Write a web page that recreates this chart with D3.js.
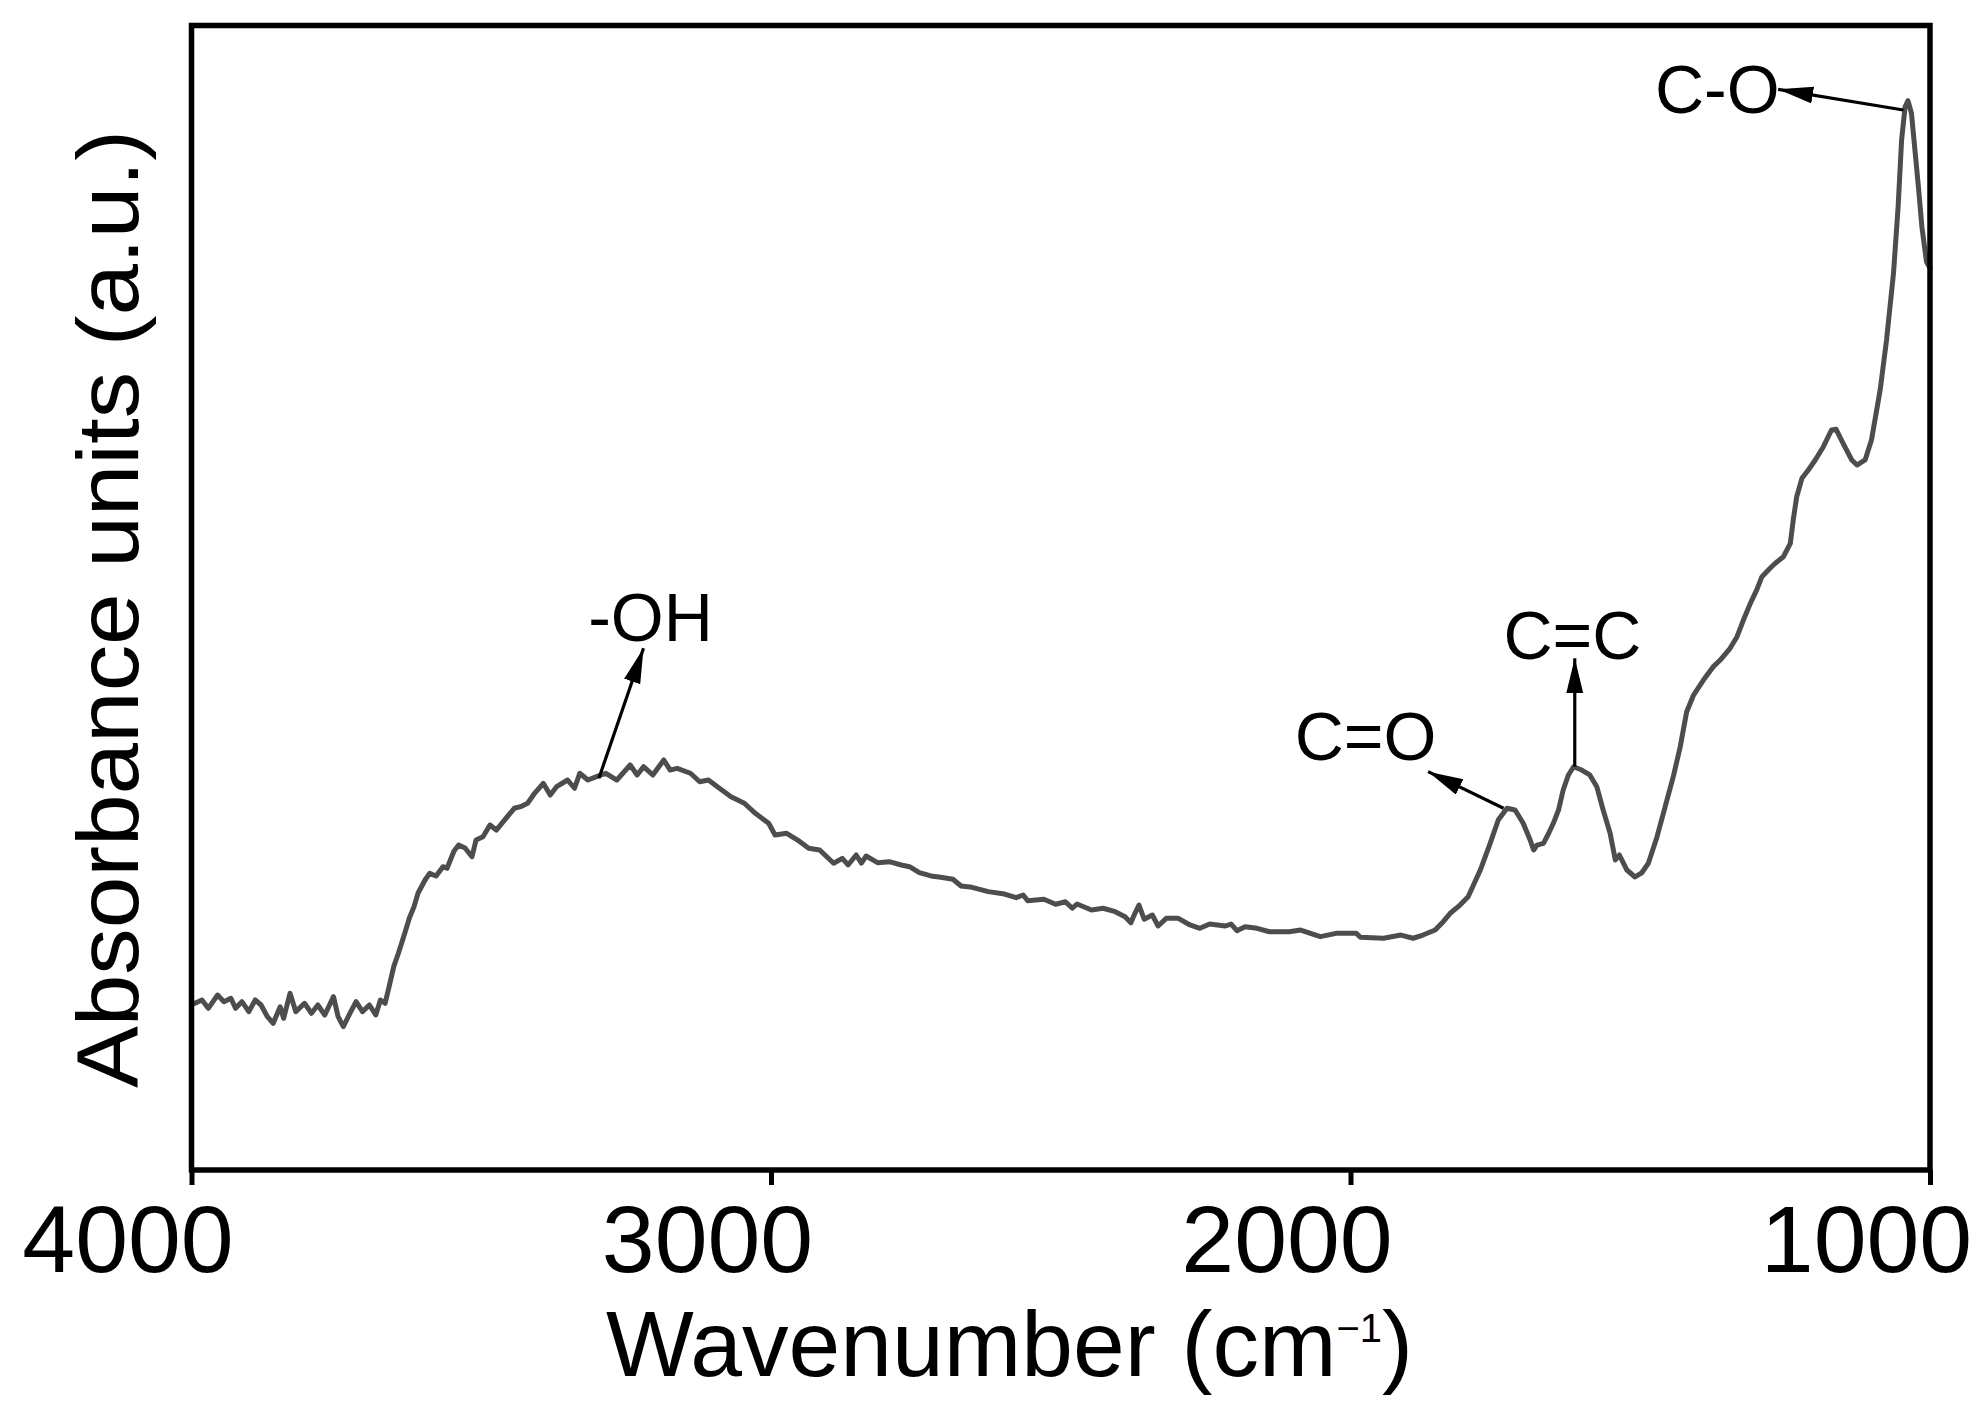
<!DOCTYPE html>
<html>
<head>
<meta charset="utf-8">
<script src="https://cdn.jsdelivr.net/npm/d3@7"></script>
<style>
  html, body { margin: 0; padding: 0; background: #ffffff; }
  svg { display: block; }
  text { font-family: "Liberation Sans", Arial, sans-serif; fill: #000; }
</style>
</head>
<body>
<svg id="chart" width="1987" height="1421"></svg>
<script>
// ---------- data ----------
const wavenumber = [4000, 3994, 3982, 3971, 3955, 3944, 3932, 3924, 3913, 3901,
  3890, 3880, 3869, 3859, 3847, 3841, 3830, 3820, 3805, 3793,
  3782, 3770, 3755, 3747, 3738, 3728, 3716, 3705, 3693, 3682,
  3674, 3666, 3659, 3651, 3643, 3632, 3624, 3616, 3609, 3597,
  3589, 3578, 3566, 3559, 3547, 3539, 3528, 3516, 3509, 3497,
  3485, 3474, 3462, 3455, 3443, 3432, 3420, 3408, 3393, 3381,
  3370, 3351, 3339, 3330, 3316, 3301, 3285, 3266, 3243, 3231,
  3220, 3204, 3185, 3174, 3162, 3139, 3123, 3108, 3089, 3069,
  3046, 3027, 3004, 2993, 2973, 2954, 2935, 2916, 2892, 2877,
  2867, 2853, 2844, 2836, 2816, 2796, 2775, 2761, 2744, 2724,
  2707, 2686, 2672, 2653, 2625, 2597, 2577, 2565, 2557, 2529,
  2509, 2492, 2480, 2472, 2447, 2427, 2406, 2389, 2379, 2372,
  2365, 2356, 2342, 2332, 2318, 2297, 2277, 2260, 2243, 2216,
  2206, 2196, 2182, 2161, 2140, 2106, 2086, 2052, 2025, 1990,
  1983, 1943, 1913, 1892, 1875, 1854, 1840, 1828, 1811, 1797,
  1776, 1759, 1745, 1730, 1716, 1702, 1690, 1684, 1678, 1667,
  1658, 1650, 1641, 1633, 1624, 1615, 1601, 1587, 1575, 1564,
  1552, 1543, 1536, 1523, 1509, 1497, 1486, 1471, 1457, 1443,
  1431, 1420, 1408, 1391, 1374, 1362, 1345, 1333, 1322, 1310,
  1299, 1290, 1276, 1267, 1253, 1241, 1236, 1230, 1221, 1210,
  1198, 1184, 1170, 1162, 1150, 1135, 1126, 1112, 1101, 1086,
  1075, 1063, 1055, 1049, 1043, 1038, 1032, 1026, 1020, 1014,
  1006, 1000];

const absorbance = [14.5, 14.56, 14.85, 14.12, 15.28, 14.70, 15.00, 14.12, 14.70, 13.83,
  14.85, 14.41, 13.39, 12.81, 14.26, 13.25, 15.43, 13.83, 14.56, 13.69,
  14.41, 13.54, 15.14, 13.39, 12.52, 13.54, 14.70, 13.83, 14.41, 13.54,
  14.85, 14.56, 16.01, 17.76, 18.93, 20.67, 22.01, 23.00, 24.19, 25.33,
  25.91, 25.68, 26.49, 26.35, 27.86, 28.38, 28.12, 27.36, 28.82, 29.11,
  30.13, 29.69, 30.42, 30.86, 31.59, 31.73, 32.03, 32.90, 33.77, 32.75,
  33.48, 34.06, 33.34, 34.65, 34.06, 34.35, 34.65, 34.06, 35.37, 34.50,
  35.22, 34.50, 35.81, 34.93, 35.08, 34.65, 33.91, 34.06, 33.34, 32.60,
  32.03, 31.15, 30.28, 29.26, 29.41, 28.82, 28.10, 27.95, 26.79, 27.22,
  26.64, 27.51, 26.81, 27.42, 26.84, 26.93, 26.64, 26.49, 25.97, 25.68,
  25.56, 25.39, 24.80, 24.69, 24.31, 24.10, 23.78, 24.02, 23.52, 23.64,
  23.21, 23.43, 22.86, 23.23, 22.71, 22.86, 22.56, 22.12, 21.60, 22.42,
  23.14, 21.90, 22.27, 21.31, 21.98, 21.98, 21.40, 21.11, 21.48, 21.31,
  21.48, 20.90, 21.25, 21.11, 20.81, 20.81, 20.96, 20.38, 20.67, 20.67,
  20.32, 20.24, 20.52, 20.24, 20.52, 20.96, 21.69, 22.42, 23.14, 23.87,
  26.20, 28.53, 30.57, 31.59, 31.44, 30.28, 28.82, 27.95, 28.38, 28.53,
  29.41, 30.28, 31.44, 33.19, 34.50, 35.22, 34.93, 34.50, 33.48, 31.44,
  29.41, 27.07, 27.51, 26.20, 25.59, 25.98, 26.79, 29.11, 31.73, 34.35,
  36.97, 40.00, 41.48, 42.79, 43.96, 44.54, 45.56, 46.58, 48.03, 49.49,
  50.66, 51.82, 52.55, 52.99, 53.56, 54.73, 56.77, 58.80, 60.41, 61.14,
  62.01, 63.17, 64.63, 64.69, 63.47, 62.01, 61.57, 62.01, 63.76, 68.12,
  72.49, 78.31, 84.13, 89.96, 92.86, 93.39, 92.29, 89.08, 85.88, 82.38,
  79.30, 78.78];

const xTicks = [4000, 3000, 2000, 1000];

const annLabels   = ["-OH", "C=O", "C=C", "C-O"];
const annLabelWn  = [3208, 1974, 1617, 1367];
const annLabelAbs = [46.16, 35.81, 44.67, 92.31];
const arrowFromWn  = [3297, 1736, 1613, 1046];
const arrowFromAbs = [34.21, 31.59, 35.22, 92.58];
const arrowToWn    = [3220, 1866, 1613, 1262];
const arrowToAbs   = [45.56, 34.79, 44.69, 94.38];

const xTitle = "Wavenumber (cm";
const xTitleSup = "\u22121";
const yTitle = "Absorbance units (a.u.)";

// ---------- layout ----------
const L = 191.5, R = 1930, T = 25, B = 1170;
const svg = d3.select("#chart");

const x = d3.scaleLinear().domain([4000, 1000]).range([L, R]);
const y = d3.scaleLinear().domain([0, 100]).range([B, T]);

// arrow marker
const defs = svg.append("defs");
defs.append("marker")
  .attr("id", "ah")
  .attr("markerUnits", "userSpaceOnUse")
  .attr("markerWidth", 36).attr("markerHeight", 18)
  .attr("refX", 35).attr("refY", 8.5)
  .attr("orient", "auto")
  .append("path")
  .attr("d", "M0,0 L35,8.5 L0,17 Z")
  .attr("fill", "#000");

// spectrum line
const pts = wavenumber.map((w, i) => [w, absorbance[i]]);
svg.append("path")
  .datum(pts)
  .attr("fill", "none")
  .attr("stroke", "#4d4d4d")
  .attr("stroke-width", 5)
  .attr("stroke-linejoin", "round")
  .attr("stroke-linecap", "round")
  .attr("d", d3.line().x(d => x(d[0])).y(d => y(d[1])));

// frame
svg.append("rect")
  .attr("x", L).attr("y", T + 0.5)
  .attr("width", R - L).attr("height", B - T - 0.5)
  .attr("fill", "none").attr("stroke", "#000").attr("stroke-width", 5.5);

// x axis
const xAxis = svg.append("g")
  .attr("transform", `translate(0,${B})`)
  .call(d3.axisBottom(x).tickValues(xTicks).tickSize(15).tickSizeOuter(0).tickFormat(d3.format("d")));
xAxis.select(".domain").remove();
xAxis.selectAll(".tick line").attr("stroke", "#000").attr("stroke-width", 5);
xAxis.selectAll(".tick text")
  .attr("x", -64).attr("y", 102).attr("dy", 0)
  .attr("font-size", 95)
  .attr("font-family", "'Liberation Sans', Arial, sans-serif")
  .attr("fill", "#000");

// x title
const xt = svg.append("text")
  .attr("x", 606).attr("y", 1376)
  .attr("font-size", 93);
xt.append("tspan").text(xTitle);
xt.append("tspan").attr("font-size", 40).attr("dy", -34).text(xTitleSup);
xt.append("tspan").attr("dy", 34).text(")");

// y title
svg.append("text")
  .attr("transform", "translate(138,609) rotate(-90)")
  .attr("text-anchor", "middle")
  .attr("font-size", 87)
  .attr("textLength", 958)
  .attr("lengthAdjust", "spacingAndGlyphs")
  .text(yTitle);

// annotation arrows
svg.append("g").selectAll("line")
  .data(annLabels.map((d, i) => i))
  .join("line")
  .attr("x1", i => x(arrowFromWn[i])).attr("y1", i => y(arrowFromAbs[i]))
  .attr("x2", i => x(arrowToWn[i])).attr("y2", i => y(arrowToAbs[i]))
  .attr("stroke", "#000").attr("stroke-width", 3.2)
  .attr("marker-end", "url(#ah)");

// annotation labels
svg.append("g").selectAll("text")
  .data(annLabels.map((d, i) => i))
  .join("text")
  .attr("x", i => x(annLabelWn[i])).attr("y", i => y(annLabelAbs[i]))
  .attr("text-anchor", "middle")
  .attr("font-size", 68)
  .text(i => annLabels[i]);
</script>
</body>
</html>
